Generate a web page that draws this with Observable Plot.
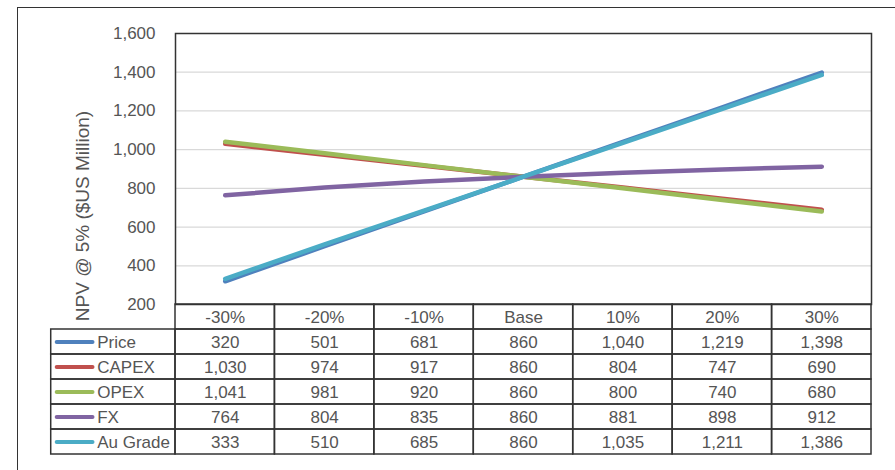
<!DOCTYPE html>
<html>
<head>
<meta charset="utf-8">
<script src="https://cdn.jsdelivr.net/npm/d3@7"></script>
<script src="https://cdn.jsdelivr.net/npm/@observablehq/plot@0.6"></script>
<style>
  html, body { margin: 0; padding: 0; background: #fff; }
  #wrap { position: relative; width: 895px; height: 470px; overflow: hidden; background: #fff;
          font-family: "Liberation Sans", Arial, sans-serif; color: #555; }
  #outer { position: absolute; left: 17px; top: 7px; width: 900px; height: 500px;
           border-left: 1.5px solid #333; border-top: 1.5px solid #333; box-sizing: border-box; }
  #chart { position: absolute; left: 0; top: 0; }
  #table { position: absolute; left: 0; top: 303px; }
  #ylabel { position: absolute; left: 83px; top: 216px; transform: translate(-50%, -50%) rotate(-90deg);
            white-space: nowrap; font-size: 19px; color: #555; }
  svg { overflow: visible; }
</style>
</head>
<body>
<div id="wrap">
  <div id="outer"></div>
  <div id="chart"></div>
  <div id="table"></div>
  <div id="ylabel">NPV @ 5% ($US Million)</div>
</div>
<script>
// ---- data ----
const categories = ["-30%", "-20%", "-10%", "Base", "10%", "20%", "30%"];
const seriesNames = ["Price", "CAPEX", "OPEX", "FX", "Au Grade"];
const price   = [320, 501, 681, 860, 1040, 1219, 1398];
const capex   = [1030, 974, 917, 860, 804, 747, 690];
const opex    = [1041, 981, 920, 860, 800, 740, 680];
const fx      = [764, 804, 835, 860, 881, 898, 912];
const auGrade = [333, 510, 685, 860, 1035, 1211, 1386];
const yTicks  = [200, 400, 600, 800, 1000, 1200, 1400, 1600];
const colors  = ["#4F81BD", "#C0504D", "#9BBB59", "#8064A2", "#4BACC6"];

const seriesValues = [price, capex, opex, fx, auGrade];
const points = seriesNames.flatMap((s, k) =>
  seriesValues[k].map((v, i) => ({series: s, i, category: categories[i], value: v})));

const fmt = d3.format(",");
const FONT = "Liberation Sans, Arial, sans-serif";
const TXT = "#555";
const colorScale = {domain: seriesNames, range: colors};
const xDomain = [-0.5, categories.length - 0.5];

// ---- chart ----
const chart = Plot.plot({
  width: 895,
  height: 305,
  marginTop: 33,
  marginBottom: 1,
  marginLeft: 175,
  marginRight: 24,
  style: {fontFamily: FONT, fontSize: "17px", color: TXT, background: "transparent"},
  x: {domain: xDomain, axis: null},
  y: {domain: [200, 1600]},
  color: colorScale,
  marks: [
    Plot.gridY(yTicks, {stroke: "#d9d9d9", strokeOpacity: 1, strokeWidth: 1.2}),
    Plot.axisY(yTicks, {tickSize: 0, tickPadding: 20, tickFormat: fmt, label: null, fill: TXT, fontSize: 17}),
    Plot.line(points, {x: "i", y: "value", z: "series", stroke: "series",
                       strokeWidth: 4.5, strokeLinecap: "round", strokeLinejoin: "round"}),
    Plot.frame({stroke: "#333", strokeWidth: 1.5})
  ]
});
document.getElementById("chart").appendChild(chart);

// ---- data table ----
const rows = ["header", ...seriesNames];
const headerCells = categories.map((c, i) => ({row: "header", i, text: c}));
const valueCells = points.map(d => ({row: d.series, i: d.i, text: fmt(d.value)}));
const cells = [...headerCells, ...valueCells];
const LEG_LEFT = -1.75; // left edge of legend column (column units)
const legendRows = seriesNames.map(s => ({row: s, series: s}));

const table = Plot.plot({
  width: 895,
  height: 166,
  marginTop: 1,
  marginBottom: 15,
  marginLeft: 175,
  marginRight: 24,
  style: {fontFamily: FONT, fontSize: "17px", color: TXT, background: "transparent"},
  x: {domain: xDomain, axis: null},
  y: {type: "band", domain: rows, padding: 0, axis: null},
  color: colorScale,
  marks: [
    Plot.barX(cells, {x1: d => d.i - 0.5, x2: d => d.i + 0.5, y: "row",
                      fill: "none", stroke: "#333", strokeWidth: 1.5}),
    Plot.barX(legendRows, {x1: LEG_LEFT, x2: -0.5, y: "row",
                           fill: "none", stroke: "#333", strokeWidth: 1.5}),
    Plot.text(cells, {x: "i", y: "row", text: "text", fill: TXT, fontSize: 17, dy: 1}),
    Plot.ruleY(legendRows, {y: "row", x1: LEG_LEFT, x2: LEG_LEFT + 0.36, dx: 6,
                            stroke: "series", strokeWidth: 4, strokeLinecap: "round"}),
    Plot.text(legendRows, {x: LEG_LEFT, y: "row", text: "series", dx: 46, dy: 1,
                           textAnchor: "start", fill: TXT, fontSize: 17})
  ]
});
document.getElementById("table").appendChild(table);
</script>
</body>
</html>
